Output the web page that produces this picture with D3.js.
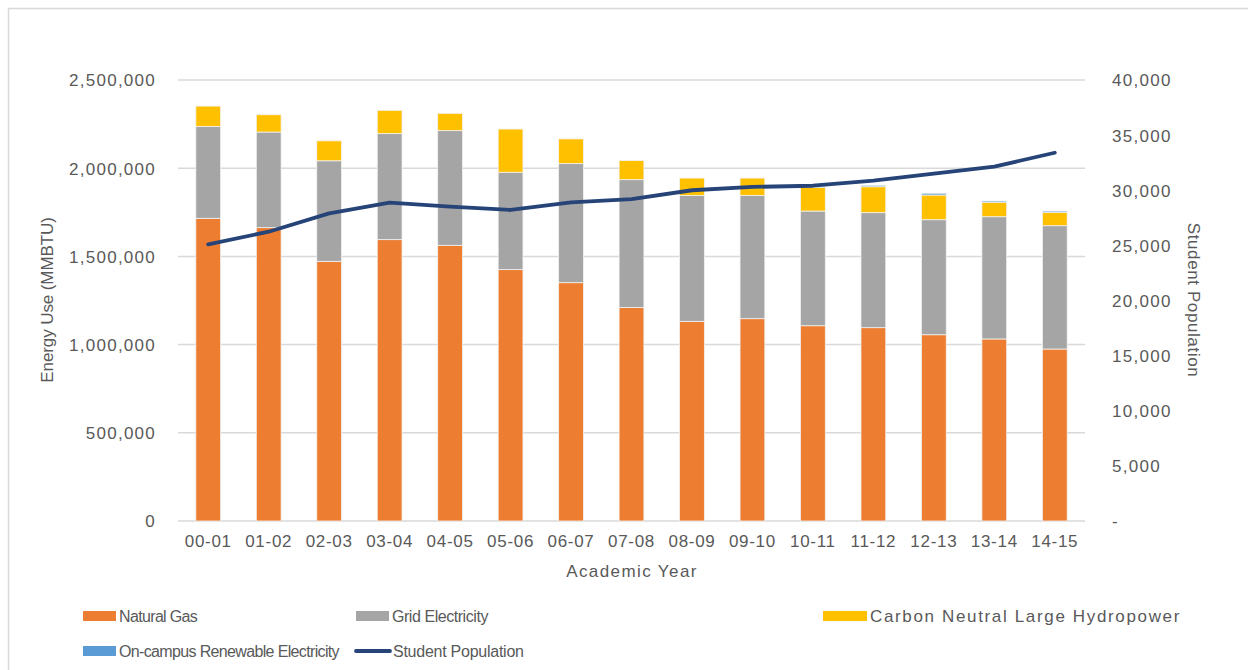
<!DOCTYPE html>
<html>
<head>
<meta charset="utf-8">
<script src="https://cdn.jsdelivr.net/npm/d3@7"></script>
<style>
  body { margin: 0; background: #fff; }
  svg text { font-family: "Liberation Sans", Arial, sans-serif; fill: #595959; }
</style>
</head>
<body>
<svg id="chart" width="1248" height="670"></svg>
<script>
  // data
  var years = ['00-01', '01-02', '02-03', '03-04', '04-05', '05-06', '06-07', '07-08',
    '08-09', '09-10', '10-11', '11-12', '12-13', '13-14', '14-15']
  var naturalGas = [1716000, 1663000, 1472000, 1595000, 1563000, 1425000, 1351000, 1211000,
    1132000, 1147000, 1107000, 1096000, 1056000, 1032000, 975000]
  var gridElec = [521000, 542000, 570000, 601000, 650000, 552000, 675000, 724000,
    714000, 699000, 650000, 652000, 652000, 693000, 699000]
  var hydro = [115000, 98000, 113000, 132000, 98000, 245000, 140000, 108000,
    98000, 98000, 135000, 147000, 140000, 82000, 76000]
  var renewable = [0, 0, 0, 0, 0, 0, 0, 0, 0, 0, 3000, 8000, 10000, 7000, 7000]
  var students = [25100, 26240, 27900, 28870, 28510, 28210, 28900, 29200,
    30000, 30300, 30410, 30870, 31500, 32140, 33400]
  var leftTicks = [0, 500000, 1000000, 1500000, 2000000, 2500000]
  var rightTicks = [0, 5000, 10000, 15000, 20000, 25000, 30000, 35000, 40000]

  var seriesNames = ['Natural Gas', 'Grid Electricity', 'Carbon Neutral Large Hydropower', 'On-campus Renewable Electricity']
  var colors = ['#ED7D31', '#A5A5A5', '#FFC000', '#5B9BD5']
  var lineColor = '#264478'

  var svg = d3.select('#chart')
  var plotLeft = 178, plotRight = 1085, plotTop = 80, plotBottom = 521

  // outer chart border
  svg.append('rect')
    .attr('x', 8.5).attr('y', 8.5)
    .attr('width', 1300).attr('height', 700)
    .attr('fill', 'none').attr('stroke', '#d9d9d9').attr('stroke-width', 1.5)

  var x = d3.scaleBand().domain(years).range([plotLeft, plotRight]).paddingInner(0.59).paddingOuter(0.295)
  var y = d3.scaleLinear().domain([0, 2500000]).range([plotBottom, plotTop])
  var y2 = d3.scaleLinear().domain([0, 40000]).range([plotBottom, plotTop])

  // gridlines
  svg.append('g').selectAll('line').data(leftTicks).join('line')
    .attr('x1', plotLeft).attr('x2', plotRight)
    .attr('y1', d => y(d)).attr('y2', d => y(d))
    .attr('stroke', '#d9d9d9').attr('stroke-width', 1.5)

  // stacked bars
  var rows = years.map(function (yr, i) {
    return { year: yr, s0: naturalGas[i], s1: gridElec[i], s2: hydro[i], s3: renewable[i] }
  })
  var stack = d3.stack().keys(['s0', 's1', 's2', 's3'])(rows)

  svg.append('g').selectAll('g').data(stack).join('g')
    .attr('fill', (d, i) => colors[i])
    .selectAll('rect').data(d => d).join('rect')
    .attr('x', d => x(d.data.year))
    .attr('width', x.bandwidth())
    .attr('y', d => y(d[1]))
    .attr('height', d => Math.max(0, y(d[0]) - y(d[1])))
    .attr('stroke', d => (d[1] - d[0]) > 0 ? '#f2f2f2' : 'none')
    .attr('stroke-width', 0.8)

  // student line
  var line = d3.line()
    .x((d, i) => x(years[i]) + x.bandwidth() / 2)
    .y(d => y2(d))
  svg.append('path').datum(students)
    .attr('d', line)
    .attr('fill', 'none').attr('stroke', lineColor).attr('stroke-width', 3.8)
    .attr('stroke-linecap', 'round').attr('stroke-linejoin', 'round')

  // left axis
  var fmt = d3.format(',')
  var leftAxis = d3.axisLeft(y).tickValues(leftTicks).tickFormat(fmt).tickSize(0).tickPadding(0)
  var gl = svg.append('g').attr('transform', 'translate(156,0)').call(leftAxis)
  gl.select('.domain').remove()
  gl.selectAll('text').attr('font-size', 17).attr('letter-spacing', 1.25).attr('dy', '0.35em')

  // right axis
  var rightAxis = d3.axisRight(y2).tickValues(rightTicks)
    .tickFormat(d => d === 0 ? '-' : fmt(d)).tickSize(0).tickPadding(0)
  var gr = svg.append('g').attr('transform', 'translate(1112,0)').call(rightAxis)
  gr.select('.domain').remove()
  gr.selectAll('text').attr('font-size', 17).attr('letter-spacing', 1.3).attr('dy', '0.35em')

  // bottom axis
  var bottomAxis = d3.axisBottom(x).tickSize(0).tickPadding(0)
  var gb = svg.append('g').attr('transform', 'translate(0,' + (plotBottom + 20) + ')').call(bottomAxis)
  gb.select('.domain').remove()
  gb.selectAll('text').attr('font-size', 17).attr('letter-spacing', 0.7).attr('dy', '0.35em')

  // axis titles
  svg.append('text').attr('x', 632).attr('y', 577).attr('text-anchor', 'middle')
    .attr('font-size', 17).attr('letter-spacing', 1.4).text('Academic Year')
  svg.append('text').attr('transform', 'translate(53,300) rotate(-90)').attr('text-anchor', 'middle')
    .attr('font-size', 17).attr('letter-spacing', -0.1).text('Energy Use (MMBTU)')
  svg.append('text').attr('transform', 'translate(1188,300) rotate(90)').attr('text-anchor', 'middle')
    .attr('font-size', 17).attr('letter-spacing', 0.6).text('Student Population')

  // legend
  var legendItems = [
    { name: seriesNames[0], color: colors[0], x: 83, y: 616, w: 33, fs: 16, ls: -0.65 },
    { name: seriesNames[1], color: colors[1], x: 356, y: 616, w: 33, fs: 16, ls: -0.45 },
    { name: seriesNames[2], color: colors[2], x: 823, y: 616, w: 44, fs: 17, ls: 1.65 },
    { name: seriesNames[3], color: colors[3], x: 83, y: 651, w: 33, fs: 16, ls: -0.65 },
    { name: 'Student Population', color: lineColor, x: 356, y: 651, w: 34, fs: 16, ls: -0.25, line: true }
  ]
  var lg = svg.append('g').selectAll('g').data(legendItems).join('g')
    .attr('transform', d => 'translate(' + d.x + ',' + d.y + ')')
  lg.filter(d => !d.line).append('rect')
    .attr('x', 0).attr('y', -5).attr('width', d => d.w).attr('height', 10)
    .attr('fill', d => d.color)
  lg.filter(d => d.line).append('line')
    .attr('x1', 0).attr('x2', d => d.w).attr('y1', 0).attr('y2', 0)
    .attr('stroke', d => d.color).attr('stroke-width', 3.8).attr('stroke-linecap', 'round')
  lg.append('text')
    .attr('x', d => d.w + 3).attr('y', 0).attr('dy', '0.35em')
    .attr('font-size', d => d.fs).attr('letter-spacing', d => d.ls)
    .text(d => d.name)
</script>
</body>
</html>
